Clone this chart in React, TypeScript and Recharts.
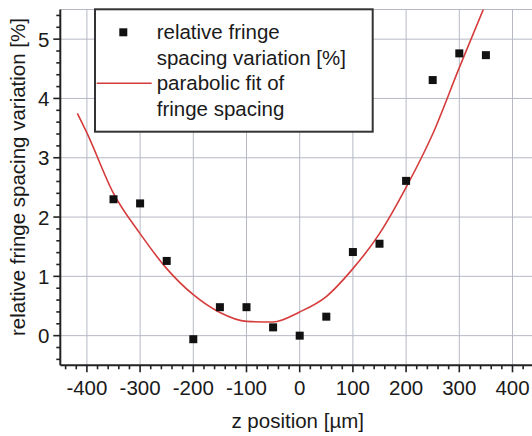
import React from 'react';
import { ComposedChart, XAxis, YAxis, Line, Scatter, ReferenceLine, Label } from 'recharts';

// measured data (z position in µm, relative fringe spacing variation in %)
const zPositions = [-350, -300, -250, -200, -150, -100, -50, 0, 50, 100, 150, 200, 250, 300, 350];
const spacingVariation = [2.30, 2.23, 1.26, -0.06, 0.48, 0.48, 0.14, 0.0, 0.32, 1.41, 1.55, 2.61, 4.31, 4.76, 4.73];

// parabolic fit curve
const fitZ = [-418, -400, -350, -300, -250, -200, -150, -100, -50, 0, 50, 100, 150, 200, 250, 300, 346];
const fitValues = [3.75, 3.42, 2.40, 1.72, 1.13, 0.69, 0.39, 0.24, 0.23, 0.40, 0.66, 1.13, 1.72, 2.50, 3.40, 4.52, 5.52];

// ticks
const xTicks = [-440, -420, -400, -380, -360, -340, -320, -300, -280, -260, -240, -220, -200, -180, -160, -140, -120, -100, -80, -60, -40, -20, 0, 20, 40, 60, 80, 100, 120, 140, 160, 180, 200, 220, 240, 260, 280, 300, 320, 340, 360, 380, 400, 420, 440];
const xMajor = [-400, -300, -200, -100, 0, 100, 200, 300, 400];
const yTicks = [-0.4, -0.2, 0, 0.2, 0.4, 0.6, 0.8, 1, 1.2, 1.4, 1.6, 1.8, 2, 2.2, 2.4, 2.6, 2.8, 3, 3.2, 3.4, 3.6, 3.8, 4, 4.2, 4.4, 4.6, 4.8, 5, 5.2, 5.4];
const yMajor = [0, 1, 2, 3, 4, 5];

const seriesNames = ['relative fringe', 'spacing variation [%]', 'parabolic fit of', 'fringe spacing'];
const xLabel = 'z position [µm]';
const yLabel = 'relative fringe spacing variation [%]';

const points = zPositions.map((x, i) => ({ x, y: spacingVariation[i] }));
const fit = fitZ.map((x, i) => ({ x, y: fitValues[i] }));

const FONT = '"Liberation Sans", Arial, sans-serif';
const TXT = '#1a1a1a';
const GRID = '#b6b9c4';
const RED = '#d63c3c';

const isMajor = (v: number, majors: number[]) => majors.some((m) => Math.abs(m - v) < 1e-6);

const XTick = (props: any) => {
  const { x, y, payload } = props;
  const major = isMajor(payload.value, xMajor);
  return (
    <g>
      <line x1={x} x2={x} y1={y} y2={y + (major ? 7 : 4)} stroke="#222" strokeWidth={1.6} />
      {major && (
        <text x={x} y={y + 30} textAnchor="middle" fontSize={20.5} fontFamily={FONT} fill={TXT}>
          {payload.value}
        </text>
      )}
    </g>
  );
};

const YTick = (props: any) => {
  const { x, y, payload } = props;
  const major = isMajor(payload.value, yMajor);
  return (
    <g>
      <line x1={x - (major ? 7 : 4)} x2={x} y1={y} y2={y} stroke="#222" strokeWidth={1.6} />
      {major && (
        <text x={x - 11} y={y + 7.5} textAnchor="end" fontSize={20.5} fontFamily={FONT} fill={TXT}>
          {payload.value}
        </text>
      )}
    </g>
  );
};

const SquareDot = (props: any) => {
  const { cx, cy } = props;
  if (cx == null || cy == null) return null;
  return <rect x={cx - 4} y={cy - 4} width={8} height={8} fill="#111" />;
};

export default function App() {
  return (
    <div style={{ position: 'absolute', left: 0, top: 0, width: 532, height: 436, overflow: 'hidden', background: '#fff' }}>
      <ComposedChart
        width={545}
        height={436}
        margin={{ top: 9.5, right: 5.9, left: 0.3, bottom: 10.7 }}
      >
        <XAxis
          dataKey="x"
          type="number"
          domain={[-450, 450]}
          ticks={xTicks}
          interval={0}
          tickSize={0}
          tickMargin={0}
          tickLine={false}
          tick={<XTick />}
          height={60}
          axisLine={{ stroke: '#222', strokeWidth: 2 }}
          allowDataOverflow
        >
          <Label
            content={(p: any) => {
              const vb = p.viewBox || {};
              return (
                <text x={vb.x + vb.width / 2 - 2} y={428} textAnchor="middle" fontSize={20.5} fontFamily={FONT} fill={TXT}>
                  {xLabel}
                </text>
              );
            }}
          />
        </XAxis>
        <YAxis
          type="number"
          domain={[-0.5, 5.5]}
          ticks={yTicks}
          interval={0}
          tickSize={0}
          tickMargin={0}
          tickLine={false}
          tick={<YTick />}
          width={60}
          axisLine={{ stroke: '#222', strokeWidth: 2 }}
          allowDataOverflow
        >
          <Label
            content={() => (
              <text
                x={0}
                y={0}
                transform="translate(25 177) rotate(-90)"
                textAnchor="middle"
                fontSize={20.5}
                fontFamily={FONT}
                fill={TXT}
              >
                {yLabel}
              </text>
            )}
          />
        </YAxis>
        {xMajor.map((v) => (
          <ReferenceLine key={'gx' + v} x={v} stroke={GRID} strokeWidth={1} />
        ))}
        {yMajor.map((v) => (
          <ReferenceLine key={'gy' + v} y={v} stroke={GRID} strokeWidth={1} />
        ))}
        <ReferenceLine y={5.5} stroke={GRID} strokeWidth={1.2} />
        <Line
          data={fit}
          dataKey="y"
          type="monotone"
          stroke={RED}
          strokeWidth={1.6}
          dot={false}
          activeDot={false}
          isAnimationActive={false}
        />
        <Scatter data={points} dataKey="y" shape={<SquareDot />} isAnimationActive={false} />
      </ComposedChart>
      <svg
        width={280}
        height={125}
        style={{ position: 'absolute', left: 94, top: 8 }}
      >
        <rect x={1} y={1.3} width={277.7} height={122.4} fill="#fff" stroke="#333" strokeWidth={2} />
        <rect x={25.3} y={20.3} width={8} height={8} fill="#111" />
        <line x1={2.7} x2={57.7} y1={75.3} y2={75.3} stroke={RED} strokeWidth={1.6} />
        {seriesNames.map((t, i) => (
          <text key={t} x={62.7} y={[31.3, 57, 82, 108][i]} fontSize={20.5} fontFamily={FONT} fill={TXT}>
            {t}
          </text>
        ))}
      </svg>
    </div>
  );
}
